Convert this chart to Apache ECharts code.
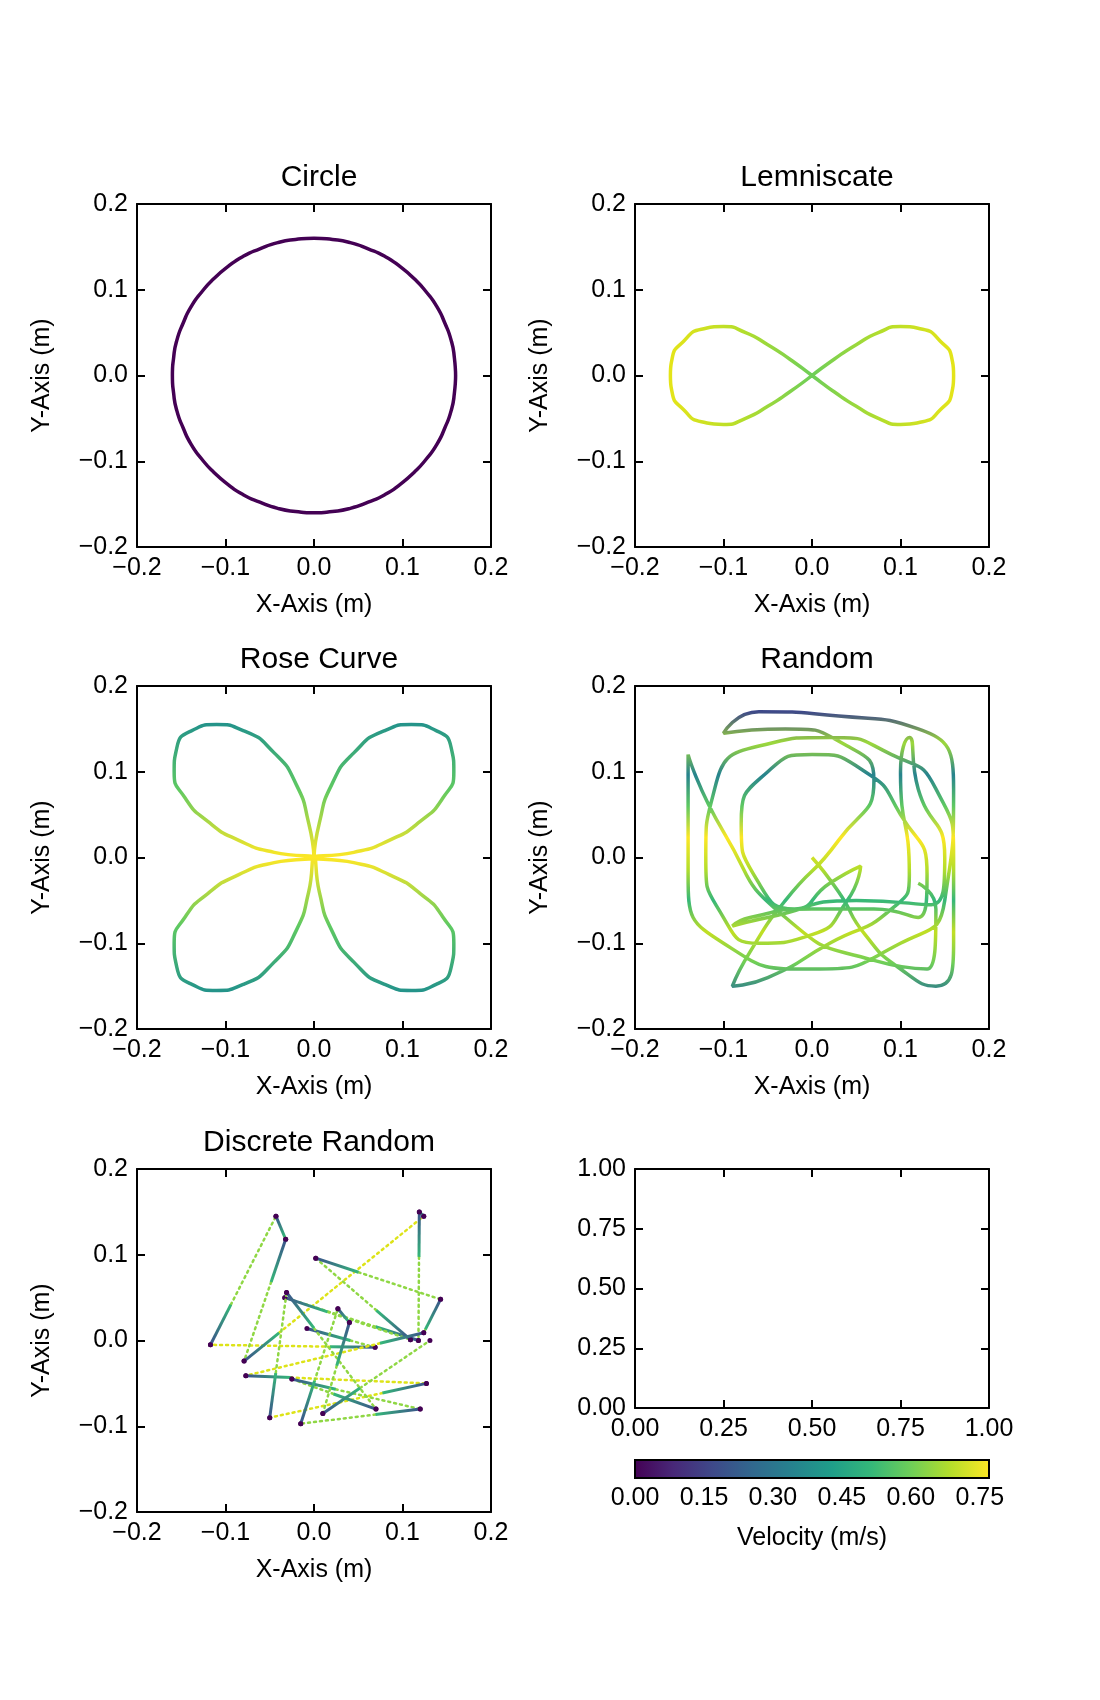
<!DOCTYPE html>
<html>
<head>
<meta charset="utf-8">
<script src="https://cdn.jsdelivr.net/npm/echarts@6/dist/echarts.min.js"></script>
<style>html,body{margin:0;background:#fff}#main{width:1100px;height:1700px}</style>
</head>
<body>
<div id="main"></div>
<script>
// trajectories (metres)
const circlePts = [[0.16,0],[0.1586,0.0209],[0.155,0.041],[0.1478,0.0612],[0.139,0.08],[0.1269,0.0974],
  [0.113,0.113],[0.0974,0.1269],[0.08,0.139],[0.0612,0.1478],[0.041,0.155],[0.0209,0.1586],[0,0.16],
  [-0.0209,0.1586],[-0.041,0.155],[-0.0612,0.1478],[-0.08,0.139],[-0.0974,0.1269],[-0.113,0.113],
  [-0.1269,0.0974],[-0.139,0.08],[-0.1478,0.0612],[-0.155,0.041],[-0.1586,0.0209],[-0.16,0],
  [-0.1586,-0.0209],[-0.155,-0.041],[-0.1478,-0.0612],[-0.139,-0.08],[-0.1269,-0.0974],[-0.113,-0.113],
  [-0.0974,-0.1269],[-0.08,-0.139],[-0.0612,-0.1478],[-0.041,-0.155],[-0.0209,-0.1586],[0,-0.16],
  [0.0209,-0.1586],[0.041,-0.155],[0.0612,-0.1478],[0.08,-0.139],[0.0974,-0.1269],[0.113,-0.113],
  [0.1269,-0.0974],[0.139,-0.08],[0.1478,-0.0612],[0.155,-0.041],[0.1586,-0.0209],[0.16,0]];
const lemniscatePts = [[0,0],[0.025,0.019],[0.05,0.036],[0.075,0.05],[0.1,0.057],[0.125,0.054],[0.145,0.04],
  [0.158,0.02],[0.16,0],[0.158,-0.02],[0.145,-0.04],[0.125,-0.054],[0.1,-0.057],[0.075,-0.05],[0.05,-0.036],
  [0.025,-0.019],[0,0],[-0.025,0.019],[-0.05,0.036],[-0.075,0.05],[-0.1,0.057],[-0.125,0.054],[-0.145,0.04],
  [-0.158,0.02],[-0.16,0],[-0.158,-0.02],[-0.145,-0.04],[-0.125,-0.054],[-0.1,-0.057],[-0.075,-0.05],
  [-0.05,-0.036],[-0.025,-0.019],[0,0]];
const rosePts = [[0,0],[0.006,0.04],[0.02,0.085],[0.045,0.122],[0.08,0.148],[0.11,0.155],[0.138,0.148],
  [0.155,0.128],[0.158,0.1],[0.146,0.07],[0.12,0.042],[0.085,0.02],[0.045,0.006],[0,0],
  [0.045,-0.006],[0.085,-0.02],[0.12,-0.042],[0.146,-0.07],[0.158,-0.1],[0.155,-0.128],[0.138,-0.148],
  [0.11,-0.155],[0.08,-0.148],[0.045,-0.122],[0.02,-0.085],[0.006,-0.04],[0,0],
  [-0.006,-0.04],[-0.02,-0.085],[-0.045,-0.122],[-0.08,-0.148],[-0.11,-0.155],[-0.138,-0.148],
  [-0.155,-0.128],[-0.158,-0.1],[-0.146,-0.07],[-0.12,-0.042],[-0.085,-0.02],[-0.045,-0.006],[0,0],
  [-0.045,0.006],[-0.085,0.02],[-0.12,0.042],[-0.146,0.07],[-0.158,0.1],[-0.155,0.128],[-0.138,0.148],
  [-0.11,0.155],[-0.08,0.148],[-0.045,0.122],[-0.02,0.085],[-0.006,0.04],[0,0]];
const randomPts = [[0,0],[0.03,-0.04],[0.06,-0.09],[0.1,-0.13],[0.14,-0.15],[0.16,-0.1],[0.16,0],[0.14,0.08],
  [0.09,0.12],[0.02,0.14],[-0.06,0.13],[-0.11,0.08],[-0.12,0],[-0.1,-0.07],[-0.06,-0.1],[0,-0.09],
  [0.04,-0.05],[0.055,-0.01],[0.02,-0.03],[-0.02,-0.06],[-0.06,-0.03],[-0.08,0.04],[-0.05,0.1],[0,0.12],
  [0.06,0.1],[0.1,0.05],[0.13,-0.02],[0.12,-0.07],[0.07,-0.06],[0,-0.06],[-0.07,-0.07],[-0.09,-0.08],
  [-0.05,-0.07],[0.05,-0.05],[0.135,-0.055],[0.15,0.0],[0.12,0.08],[0.11,0.14],[0.1,0.1],[0.11,-0.02],
  [0.09,-0.06],[0.02,-0.1],[-0.05,-0.14],[-0.09,-0.15],[-0.07,-0.11],[-0.03,-0.05],[0.03,0.02],
  [0.07,0.09],[0.04,0.13],[-0.03,0.15],[-0.1,0.145],[-0.06,0.17],[0.03,0.165],[0.12,0.15],[0.16,0.08],
  [0.15,-0.05],[0.1,-0.1],[0.0,-0.13],[-0.1,-0.1],[-0.14,-0.02],[-0.14,0.12],[-0.1,0.03],[-0.03,-0.07],
  [0.07,-0.12],[0.13,-0.13],[0.14,-0.06],[0.12,-0.03]];
const discreteWaypoints = [[-0.008,0.014],[0.069,-0.008],[-0.117,-0.005],[-0.043,0.145],[-0.032,0.118],
  [-0.079,-0.024],[0.124,0.145],[0.119,0.15],[0.118,0.0],[-0.033,0.05],[0.109,0.001],[0.002,0.096],
  [0.143,0.048],[0.124,0.009],[-0.077,-0.041],[0.127,-0.05],[-0.05,-0.09],[-0.031,0.056],[0.07,-0.08],
  [-0.025,-0.045],[0.12,-0.08],[-0.015,-0.097],[0.027,0.037],[0.04,0.021],[0.01,-0.085],[0.131,0.0]];
const cbarTicks = [0, 0.15, 0.3, 0.45, 0.6, 0.75];
const viridis = ['#440154','#482878','#3e4989','#31688e','#26828e','#1f9e89','#35b779','#6ece58','#b5de2b','#fde725'];

const titles = ['Circle', 'Lemniscate', 'Rose Curve', 'Random', 'Discrete Random', ''];
const lefts = [137, 635];
const tops = [204, 686, 1169];
const W = 354, H = 343;
const font = 'Liberation Sans, Arial, sans-serif';
const fs = 25;
const fmt = v => (v < 0 ? '\u2212' : '') + Math.abs(v).toFixed(1);

const grid = [], xAxis = [], yAxis = [], title = [], series = [];
for (let i = 0; i < 6; i++) {
  const l = lefts[i % 2], t = tops[Math.floor(i / 2)];
  const last = i === 5;
  grid.push({ left: l, top: t, width: W, height: last ? 239 : H });
  const rng = last ? { min: 0, max: 1, interval: 0.25 } : { min: -0.2, max: 0.2, interval: 0.1 };
  const lab = last ? (v => v.toFixed(2)) : fmt;
  const common = {
    type: 'value', gridIndex: i, ...rng, splitLine: { show: false },
    axisLine: { show: true, onZero: false, lineStyle: { color: '#000', width: 2 } },
    axisTick: { show: true, inside: true, length: 8, lineStyle: { color: '#000', width: 2 } }
  };
  xAxis.push({ ...common, position: 'bottom',
    name: last ? '' : 'X-Axis (m)', nameLocation: 'middle', nameGap: 46,
    nameTextStyle: { fontFamily: font, fontSize: fs, color: '#000' },
    axisLabel: { formatter: lab, fontFamily: font, fontSize: fs, color: '#000', margin: 9 } });
  xAxis.push({ ...common, position: 'top', axisLabel: { show: false } });
  yAxis.push({ ...common, position: 'left',
    name: last ? '' : 'Y-Axis (m)', nameLocation: 'middle', nameGap: 82, nameRotate: 90,
    nameTextStyle: { fontFamily: font, fontSize: fs, color: '#000' },
    axisLabel: { formatter: lab, fontFamily: font, fontSize: fs, color: '#000', margin: 9 } });
  yAxis.push({ ...common, position: 'right', axisLabel: { show: false } });
  if (titles[i]) title.push({ text: titles[i], left: l + W / 2, top: t - 46, textAlign: 'center',
    textStyle: { fontFamily: font, fontSize: 30, fontWeight: 'normal', color: '#000' } });
}

function curve(idx, pts, color) {
  return { type: 'line', xAxisIndex: idx * 2, yAxisIndex: idx * 2, data: pts, smooth: 0.6,
    showSymbol: false, lineStyle: { width: 3.5, color: color }, silent: true, z: 3 };
}
series.push(curve(0, circlePts, '#440154'));
series.push(curve(1, lemniscatePts));
series.push(curve(2, rosePts));
series.push(curve(3, randomPts));

// discrete legs: slow solid start, fast dotted rest
const legs = [];
for (let k = 0; k + 1 < discreteWaypoints.length; k++)
  legs.push([...discreteWaypoints[k], ...discreteWaypoints[k + 1]]);
series.push({
  type: 'custom', xAxisIndex: 8, yAxisIndex: 8, data: legs, silent: true,
  renderItem: function (params, api) {
    const p0 = api.coord([api.value(0), api.value(1)]);
    const p1 = api.coord([api.value(2), api.value(3)]);
    const len = Math.hypot(p1[0] - p0[0], p1[1] - p0[1]);
    const f = Math.min(0.9, 45 / Math.max(len, 1));
    const pm = [p0[0] + (p1[0] - p0[0]) * f, p0[1] + (p1[1] - p0[1]) * f];
    return { type: 'group', children: [
      { type: 'line', shape: { x1: pm[0], y1: pm[1], x2: p1[0], y2: p1[1] },
        style: { stroke: len > 150 ? '#dde318' : '#8fd744', lineWidth: 2.5, lineDash: [2, 4], lineCap: 'round' } },
      { type: 'line', shape: { x1: p0[0], y1: p0[1], x2: pm[0], y2: pm[1] },
        style: { stroke: new echarts.graphic.LinearGradient(p0[0], p0[1], pm[0], pm[1],
          [{ offset: 0, color: '#3b528b' }, { offset: 1, color: '#35b779' }], true), lineWidth: 3 } },
      { type: 'circle', shape: { cx: p0[0], cy: p0[1], r: 2.5 }, style: { fill: '#440154' } },
      { type: 'circle', shape: { cx: p1[0], cy: p1[1], r: 2.5 }, style: { fill: '#440154' } }
    ] };
  }
});

// colorbar
grid.push({ left: 635, top: 1460, width: W, height: 18 });
xAxis.push({ type: 'value', gridIndex: 6, min: 0, max: 0.77, interval: 0.15, splitLine: { show: false },
  axisLine: { show: false }, axisTick: { show: true, inside: true, length: 5, lineStyle: { color: '#000', width: 1.5 } },
  axisLabel: { showMaxLabel: false, formatter: v => v.toFixed(2), fontFamily: font, fontSize: fs, color: '#000', margin: 8 },
  name: 'Velocity (m/s)', nameLocation: 'middle', nameGap: 48,
  nameTextStyle: { fontFamily: font, fontSize: fs, color: '#000' } });
yAxis.push({ type: 'value', gridIndex: 6, min: 0, max: 1, show: false });
series.push({
  type: 'custom', xAxisIndex: 12, yAxisIndex: 12, data: [[0, 0.77]], silent: true,
  renderItem: function (params, api) {
    const a = api.coord([api.value(0), 1]), b = api.coord([api.value(1), 0]);
    return { type: 'rect', shape: { x: a[0], y: a[1], width: b[0] - a[0], height: b[1] - a[1] },
      style: { fill: new echarts.graphic.LinearGradient(0, 0, 1, 0,
        viridis.map((c, j) => ({ offset: j / (viridis.length - 1), color: c }))), stroke: '#000', lineWidth: 2 } };
  }
});

const chart = echarts.init(document.getElementById('main'), null, { renderer: 'canvas' });
chart.setOption({
  animation: false, backgroundColor: '#fff', title, grid, xAxis, yAxis, series,
  visualMap: [
    { show: false, type: 'continuous', seriesIndex: 1, dimension: 0, min: -0.16, max: 0.16,
      inRange: { color: ['#e4e419', '#b5de2b', '#6ece58', '#b5de2b', '#e4e419'] } },
    { show: false, type: 'continuous', seriesIndex: 2, dimension: 1, min: -0.16, max: 0.16,
      inRange: { color: ['#21918c', '#5ec962', '#fde725', '#5ec962', '#21918c'] } },
    { show: false, type: 'continuous', seriesIndex: 3, dimension: 1, min: -0.16, max: 0.17,
      inRange: { color: ['#2a788e', '#6ece58', '#c2df23', '#35b779', '#b5de2b', '#fde725', '#5ec962', '#26828e', '#9dd93b', '#3e4989'] } }
  ]
});
</script>
</body>
</html>
